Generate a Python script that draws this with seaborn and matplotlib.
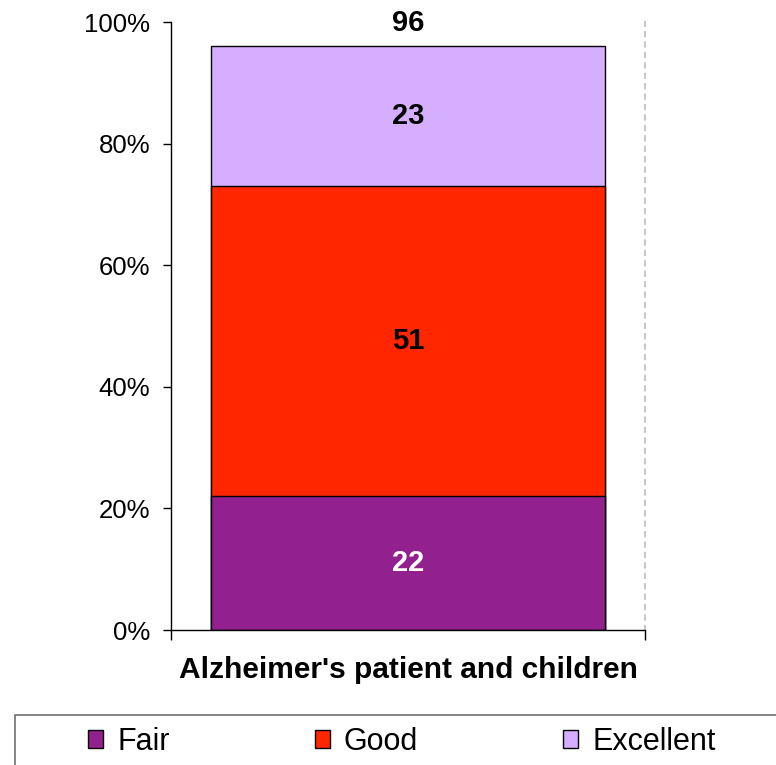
import matplotlib
matplotlib.use("Agg")
import matplotlib.pyplot as plt
from matplotlib.patches import Patch, Rectangle
from matplotlib.ticker import FixedLocator, PercentFormatter
import seaborn as sns
import pandas as pd

# Ratings for the single group, stacked bottom to top
category = ["Alzheimer's patient and children"]
ratings = ["Fair", "Good", "Excellent"]
values = [22, 51, 23]
total = [96]
colors = ["#93208F", "#FF2600", "#D6AEFF"]

sns.set_theme(style="white")
plt.rcParams["font.family"] = ["Liberation Sans", "DejaVu Sans"]
plt.rcParams["text.color"] = "black"

fig = plt.figure(figsize=(7.76, 7.65), dpi=100)
ax = fig.add_axes([171 / 776, 1 - 630 / 765, 474 / 776, 608 / 765])

# cumulative tops, drawn from tallest to shortest so each segment shows
tops = []
acc = 0
for v in values:
    acc += v
    tops.append(acc)

for name, top, col in reversed(list(zip(ratings, tops, colors))):
    df = pd.DataFrame({"group": category, "value": [top]})
    sns.barplot(data=df, x="group", y="value", color=col, saturation=1,
                width=0.831, edgecolor="black", linewidth=1.0, ax=ax, zorder=2)

# segment labels
bottom = 0
for v, lab_col in zip(values, ["white", "black", "black"]):
    ax.text(0, bottom + v / 2, f"{v}", ha="center", va="center",
            fontsize=21, fontweight="bold", color=lab_col, zorder=5)
    bottom += v
ax.annotate(f"{total[0]}", xy=(0, total[0]), xytext=(0, 17),
            textcoords="offset points", ha="center", va="center",
            fontsize=21, fontweight="bold", color="black")

ax.set_xlim(-0.5, 0.5)
ax.set_ylim(0, 100)
ax.set_yticks([0, 20, 40, 60, 80, 100])
ax.yaxis.set_major_formatter(PercentFormatter(decimals=0))
ax.set_ylabel("")
ax.set_xlabel("")

ax.tick_params(axis="y", which="major", direction="out", length=6, width=1,
               color="black", left=True, labelsize=18.5, pad=9,
               labelcolor="black")
ax.tick_params(axis="x", which="major", length=0, pad=19, labelsize=21.5,
               labelcolor="black")
for t in ax.get_xticklabels():
    t.set_fontweight("bold")
ax.xaxis.set_minor_locator(FixedLocator([-0.5, 0.5]))
ax.tick_params(axis="x", which="minor", direction="out", length=7.5, width=1,
               color="black", bottom=True)

ax.spines["top"].set_visible(False)
ax.spines["left"].set_color("black")
ax.spines["bottom"].set_color("black")
ax.spines["left"].set_linewidth(1)
ax.spines["bottom"].set_linewidth(1)
ax.spines["right"].set_visible(True)
ax.spines["right"].set_color("#C8C8C8")
ax.spines["right"].set_linestyle((0, (2, 3)))
ax.spines["right"].set_linewidth(1.5)
ax.grid(False)

# legend with its own frame running off the right edge
frame = Rectangle((15 / 776, -0.1), 1.0, (765 - 714.5) / 765 + 0.1,
                  transform=fig.transFigure, facecolor="white",
                  edgecolor="#707070", linewidth=1.2)
fig.patches.append(frame)
handles = [Patch(facecolor=c, edgecolor="black", linewidth=1) for c in colors]
leg = fig.legend(handles, ratings, loc="center left",
                 bbox_to_anchor=(88 / 776, 1 - 742 / 765), ncol=3,
                 frameon=False, fontsize=22, handlelength=0.5,
                 handleheight=0.5, handletextpad=0.45, columnspacing=4.75,
                 borderpad=0, borderaxespad=0, labelcolor="black")

fig.savefig("out.png", dpi=100)
